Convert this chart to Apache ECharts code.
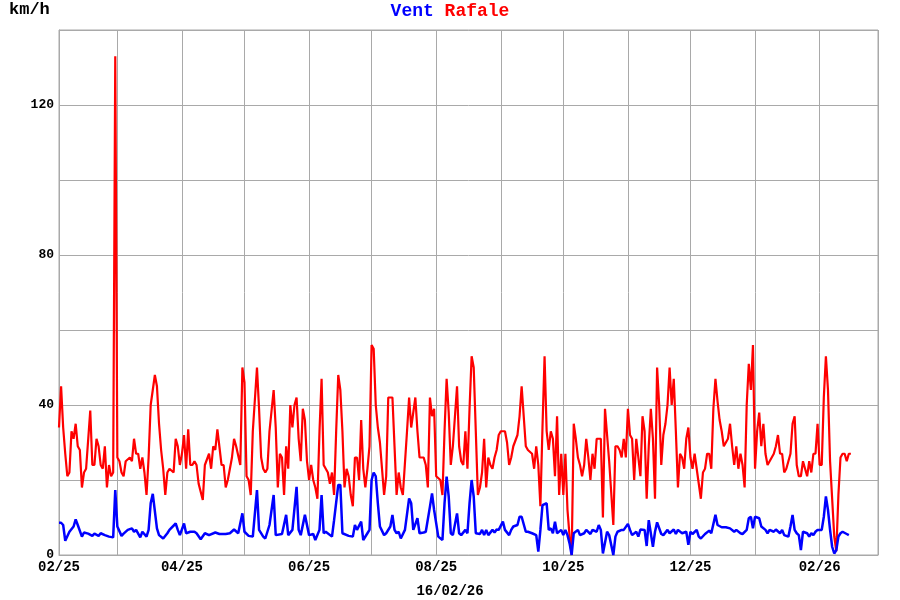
<!DOCTYPE html>
<html>
<head>
<meta charset="utf-8">
<script src="https://cdn.jsdelivr.net/npm/echarts@6/dist/echarts.min.js"></script>
<style>html,body{margin:0;padding:0;background:#fff}#c{width:900px;height:600px}</style>
</head>
<body>
<div id="c"></div>
<script>
// Daily wind readings, day offset from 1 Feb 2025, value in km/h
const startDate = [2025, 1, 1];
const endDate = [2026, 2, 1];
const dateLabel = '16/02/26';
const yTickLabels = [0, 40, 80, 120];

const rafale = [[0,34],[1,45],[2,34],[3,27],[4,21],[5,22],[6,33],[7,31],[8,35],[9,29],[10,28],[11,18],[12,22],[13,23],[15,38.5],[16,24],[17,24],[18,31],[19,29],[20,24],[21,23],[22,29],[23,18],[24,24],[25,21],[26,22],[27,133],[28,26],[29,25],[30,22],[31,21],[32,25],[34,26],[35,25],[36,31],[37,27],[38,27],[39,23],[40,26],[41,22],[42,16],[43,26],[44,40],[45,44],[46,48],[47,45],[48,35],[49,28],[50,23],[51,16],[52,22],[53,23],[55,22],[56,31],[57,29],[58,24],[59,27],[60,32],[61,23],[62,33.5],[63,24],[64,24],[65,25],[66,24],[67,19],[69,14.7],[70,24],[72,27],[73,23],[74,29],[75,28],[76,33.5],[78,24],[79,24],[80,18],[81,20],[83,26],[84,31],[85,29],[87,24],[88,50],[89,46],[90,21],[91,20],[92,16],[93,33],[95,50],[96,39],[97,26],[98,23],[99,22],[100,23],[101,33],[103,44],[104,34],[105,18],[106,27],[107,26],[108,16],[109,29],[110,23],[111,40],[112,34],[113,40],[114,42],[115,31],[116,25],[117,39],[118,36],[119,25],[120,20],[121,24],[122,20],[123,18],[124,15],[125,33],[126,47],[127,24],[128,23],[129,22],[130,19],[131,22],[132,16],[133,33],[134,48],[135,44],[136,33],[137,18],[138,23],[139,21],[140,16],[141,13],[142,26],[143,26],[144,20],[145,36],[146,23],[147,18],[148,23],[149,29],[150,56],[151,55],[152,40],[153,34],[154,30],[155,23],[156,16],[157,21],[158,42],[160,42],[161,29],[162,16],[163,22],[164,18],[165,16],[167,33],[168,42],[169,34],[171,42],[172,33],[173,26],[175,26],[176,24],[177,18],[178,42],[179,37],[180,39],[181,21],[183,20],[184,16],[185,33],[186,47],[187,38],[188,24],[189,29],[191,45],[192,29],[193,25],[194,24],[195,33],[196,23],[197,39],[198,53],[199,50],[200,33],[201,16],[202,18],[203,22],[204,31],[205,18],[206,26],[207,24],[208,23],[209,26],[210,28],[211,32],[212,33],[214,33],[215,30],[216,24],[217,26],[218,29],[220,32],[221,37],[222,45],[224,29],[225,28],[227,27],[228,23],[229,29],[230,24],[231,13],[232,34],[233,53],[234,33],[235,28],[236,33],[237,31],[238,21],[239,37],[240,16],[241,27],[242,16],[243,27],[244,12],[245,5],[246,0],[247,35],[248,31],[249,26],[250,24],[251,21],[252,24],[253,31],[254,26],[255,20],[256,27],[257,23],[258,31],[260,31],[261,10],[262,39],[264,25],[266,8],[267,29],[268,29],[269,28],[270,26],[271,31],[272,26],[273,39],[274,32],[275,31],[276,20],[277,31],[278,26],[279,21],[280,37],[281,33],[282,15],[283,29],[284,39],[285,31],[286,15],[287,50],[288,40],[289,24],[290,32],[291,35],[292,40],[293,50],[294,40],[295,47],[296,33],[297,18],[298,27],[299,26],[300,23],[301,31],[302,34],[303,26],[304,23],[305,27],[306,23],[307,19],[308,15],[309,22],[310,23],[311,27],[312,27],[313,23],[314,39],[315,47],[316,41],[317,36],[318,33],[319,29],[320,30],[321,31],[322,35],[323,29],[324,24],[325,29],[326,23],[327,27],[328,24],[329,18],[330,40],[331,51],[332,44],[333,56],[334,23],[335,33],[336,38],[337,29],[338,35],[339,27],[340,24],[341,25],[342,26],[343,27],[344,29],[345,32],[346,27],[347,27],[348,22],[349,23],[350,25],[351,27],[352,35],[353,37],[354,24],[355,21],[356,21],[357,25],[358,23],[359,21],[360,25],[361,22],[362,27],[363,27],[364,35],[365,24],[366,24],[367,42],[368,53],[369,44],[370,25],[371,15],[372,5],[373,1],[374,16],[375,26],[376,27],[377,27],[378,25],[379,27],[380,27]];

const vent = [[0,8.6],[1,8.6],[2,8],[3,3.8],[4,5],[5,6.2],[7,7.6],[8,9.5],[9,8],[11,4.9],[12,6],[14,5.7],[16,5.1],[17,5.7],[19,5.1],[20,5.8],[22,5.3],[24,4.9],[26,4.7],[27,17.3],[28,7.6],[30,5.1],[31,5.7],[33,6.7],[35,7.1],[36,6.2],[37,6.7],[39,4.7],[40,6.2],[42,4.9],[43,6.7],[44,13.8],[45,16.3],[47,7.1],[48,5.3],[50,4.4],[52,5.8],[53,6.7],[56,8.4],[57,6.7],[58,5.3],[60,8.4],[61,5.8],[63,6.2],[65,6.2],[66,5.8],[68,4.2],[70,5.8],[72,5.3],[75,6],[77,5.6],[80,5.6],[82,5.8],[84,6.8],[86,5.8],[88,11.1],[89,6.2],[91,5.1],[93,4.9],[95,17.3],[96,6.7],[98,4.9],[99,4.4],[101,8],[103,16],[104,5.3],[107,5.6],[109,10.7],[110,5.3],[112,6.7],[114,18.2],[115,6.7],[116,5.3],[118,10.7],[120,5.3],[122,5.6],[123,4],[125,6.7],[126,16],[127,5.8],[128,6.2],[131,4.9],[132,9.3],[134,18.7],[135,18.7],[136,5.8],[139,5.1],[141,4.9],[142,8],[143,6.7],[145,8.9],[146,4],[148,5.8],[149,6.7],[150,20],[151,22],[152,21],[153,13.8],[154,7.6],[156,5.3],[157,5.8],[159,7.6],[160,10.7],[161,6.7],[162,5.8],[163,6.2],[164,4.4],[166,6.7],[168,15.1],[169,13.8],[170,6.7],[172,9.8],[173,5.8],[175,6],[176,6.2],[178,12.9],[179,16.4],[180,12],[182,4.9],[184,4],[185,13.8],[186,20.9],[187,15.6],[188,5.8],[189,5.3],[191,11.1],[192,5.8],[193,5.3],[195,6.7],[196,5.8],[197,13.8],[198,20],[199,15.6],[200,5.8],[202,5.6],[203,6.7],[204,5.3],[205,6.7],[206,5.3],[208,6.7],[209,6],[210,6.8],[211,6.7],[213,8.9],[214,6.7],[216,5.3],[217,6.7],[218,7.6],[220,8],[221,10.2],[222,10.2],[224,6.2],[225,6.2],[227,5.8],[229,5.3],[230,0.9],[231,6.7],[232,13.3],[234,13.8],[235,6.7],[236,7.1],[237,5.8],[238,8.9],[239,5.8],[241,6.7],[242,5.3],[243,6.7],[244,5.3],[245,3.1],[246,0],[247,5.8],[249,6.7],[250,5.3],[252,5.8],[253,6.7],[255,5.6],[256,6.7],[258,6.2],[259,8],[260,6.7],[261,0.4],[263,6.2],[264,5.3],[266,0],[267,4.9],[268,6.2],[270,6.7],[271,6.7],[273,8.3],[274,6.7],[275,5.3],[277,6.2],[278,4.9],[279,6.8],[281,6.7],[282,2.4],[283,9.3],[285,2.2],[286,6.2],[287,8.7],[289,5.6],[290,5.3],[292,6.7],[293,5.8],[295,6.8],[296,5.6],[297,6.7],[299,5.8],[301,6.2],[302,2.7],[303,6.2],[304,5.6],[306,6.7],[307,4.9],[308,4.4],[310,5.6],[312,6.5],[313,5.8],[315,10.7],[316,8],[318,7.4],[320,7.4],[322,7.1],[324,6.2],[325,6.7],[327,5.8],[328,5.6],[330,6.7],[331,9.8],[332,10.2],[333,7.1],[334,10.2],[336,9.8],[337,7.6],[339,6.7],[340,5.8],[341,6.7],[343,6.2],[344,6.8],[346,5.8],[347,6.7],[348,5.3],[350,4.9],[351,7.6],[352,10.7],[353,6.7],[354,5.8],[355,5.3],[356,1.3],[357,6.2],[359,5.8],[360,4.9],[361,5.8],[362,5.3],[363,6.2],[364,6.7],[366,6.7],[367,10.2],[368,15.6],[369,12],[370,6.7],[371,2.2],[372,0.4],[373,1.3],[374,4.9],[375,5.8],[376,6.2],[378,5.6],[379,5.3]];

const FONT = '"Liberation Mono", "Courier New", monospace';
const GRID = '#a9a9a9';
function toTime(day) { return new Date(startDate[0], startDate[1], startDate[2] + day).getTime(); }
function series(arr) { return arr.map(p => [toTime(p[0]), p[1]]); }
function pad(n) { return (n < 10 ? '0' : '') + n; }

const chart = echarts.init(document.getElementById('c'), null, {renderer: 'canvas'});
chart.setOption({
  animation: false,
  backgroundColor: '#fff',
  title: {
    text: '{a|Vent} {b|Rafale}',
    left: 'center', top: -3,
    textStyle: {
      fontFamily: FONT, fontWeight: 'bold', fontSize: 18,
      rich: {
        a: {color: '#0000ff', fontFamily: FONT, fontWeight: 'bold', fontSize: 18},
        b: {color: '#ff0000', fontFamily: FONT, fontWeight: 'bold', fontSize: 18}
      }
    }
  },
  graphic: [
    {type: 'text', left: 9, top: 1, style: {text: 'km/h', font: 'bold 17px ' + FONT, fill: '#000'}},
    {type: 'text', left: 'center', top: 584, style: {text: dateLabel, font: 'bold 14px ' + FONT, fill: '#000'}}
  ],
  grid: {left: 59, right: 22, top: 30, bottom: 45, show: true, borderColor: GRID, borderWidth: 1},
  xAxis: {
    type: 'time',
    min: toTime(0),
    max: new Date(endDate[0], endDate[1], endDate[2]).getTime(),
    minInterval: 27 * 864e5,
    maxInterval: 32 * 864e5,
    splitNumber: 13,
    axisLine: {lineStyle: {color: GRID}},
    axisTick: {show: false},
    splitLine: {show: true, lineStyle: {color: GRID, width: 1}},
    axisLabel: {
      color: '#000', fontFamily: FONT, fontWeight: 'bold', fontSize: 14, margin: 5,
      hideOverlap: false,
      formatter: function (v) {
        const d = new Date(v);
        if (d.getDate() !== 1 || d.getMonth() % 2 !== 1) return '';
        return pad(d.getMonth() + 1) + '/' + pad(d.getFullYear() % 100);
      }
    }
  },
  yAxis: {
    type: 'value', min: 0, max: 140, interval: 20,
    axisLine: {show: true, lineStyle: {color: GRID}},
    axisTick: {show: false},
    splitLine: {show: true, lineStyle: {color: GRID, width: 1}},
    axisLabel: {
      color: '#000', fontFamily: FONT, fontWeight: 'bold', fontSize: 13, margin: 5,
      formatter: v => yTickLabels.indexOf(v) >= 0 ? String(v) : ''
    }
  },
  series: [
    {name: 'Rafale', type: 'line', data: series(rafale), showSymbol: false, symbol: 'none',
     lineStyle: {color: '#ff0000', width: 2.2}, z: 2},
    {name: 'Vent', type: 'line', data: series(vent), showSymbol: false, symbol: 'none',
     lineStyle: {color: '#0000ff', width: 2.5}, z: 3}
  ]
});
</script>
</body>
</html>
